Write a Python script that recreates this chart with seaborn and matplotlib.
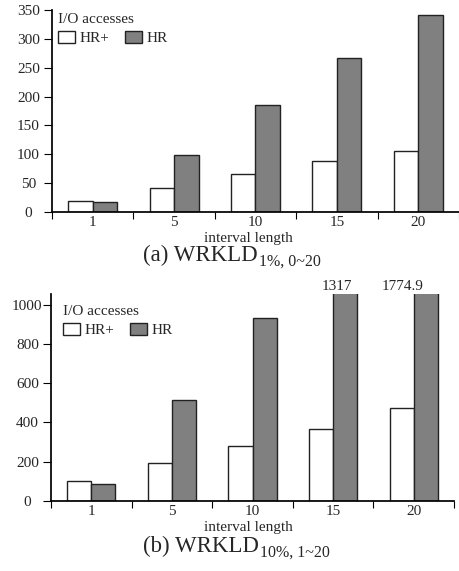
import pandas as pd
import seaborn as sns
import matplotlib.pyplot as plt
from matplotlib.ticker import FixedLocator

intervals = ['1', '5', '10', '15', '20']
methods = ['HR+', 'HR']

# (a) WRKLD 1%
hrplus_a = [19, 41, 65, 89, 106]
hr_a = [17, 98, 185, 267, 341]

# (b) WRKLD 10%
hrplus_b = [99, 191, 280, 366, 472]
hr_b = [87, 515, 931, 1317, 1774.9]

sns.set_theme(style='ticks')
plt.rcParams['font.family'] = ['Liberation Serif', 'DejaVu Serif']


def long_df(plus, base):
    return pd.DataFrame({
        'interval': intervals * 2,
        'method': ['HR+'] * len(intervals) + ['HR'] * len(intervals),
        'value': plus + base,
    })


W, H = 460, 571
fig = plt.figure(figsize=(W / 100, H / 100), dpi=100)
ax1 = fig.add_axes([52 / W, 1 - 212 / H, 407 / W, 202 / H])
ax2 = fig.add_axes([51 / W, 1 - 500.7 / H, 403 / W, 206.5 / H])

pal = {'HR+': 'white', 'HR': '#808080'}
fs = 11

panels = [
    (ax1, long_df(hrplus_a, hr_a), 350, range(0, 351, 50),
     '(a) WRKLD', '1%, 0~20', 261, 242, (0.0, 1.015)),
    (ax2, long_df(hrplus_b, hr_b), 1055, range(0, 1001, 200),
     '(b) WRKLD', '10%, 1~20', 552, 531, (0.015, 0.975)),
]

for ax, df, ymax, yticks, main, sub, title_y, xlab_y, leg_pos in panels:
    sns.barplot(data=df, x='interval', y='value', hue='method', hue_order=methods,
                order=intervals, palette=pal, width=0.6, gap=0,
                edgecolor='#222222', linewidth=1.0, ax=ax)
    ax.set_ylim(0, ymax)
    ax.set_xlim(-0.5, 4.5)
    ax.set_yticks(list(yticks))
    ax.xaxis.set_minor_locator(FixedLocator([-0.5, 0.5, 1.5, 2.5, 3.5, 4.5]))
    ax.tick_params(axis='x', which='major', length=0, labelsize=fs, pad=3)
    ax.tick_params(axis='x', which='minor', length=5, width=0.8, color='black')
    ax.tick_params(axis='y', length=6, width=0.8, labelsize=fs, color='black', pad=11)
    sns.despine(ax=ax)
    ax.spines['left'].set_color('black')
    ax.spines['bottom'].set_color('black')
    ax.set_xlabel('')
    ax.set_ylabel('')
    ax.grid(False)

    fig.text(248 / W, 1 - xlab_y / H, 'interval length', ha='center',
             va='baseline', fontsize=fs)
    t = fig.text(143 / W, 1 - title_y / H, main, ha='left', va='baseline',
                 fontsize=16.5)
    ax.annotate(sub, xy=(1.0, 0.0), xycoords=t, xytext=(1, 0.5),
                textcoords='offset points', ha='left', va='baseline',
                fontsize=11.5)

    handles, labels = ax.get_legend_handles_labels()
    ax.legend(handles, labels, title='I/O accesses', ncol=2, frameon=False,
              loc='upper left', bbox_to_anchor=leg_pos, alignment='left',
              fontsize=fs, title_fontsize=fs, handlelength=1.1,
              handleheight=0.85, handletextpad=0.3, columnspacing=1.05,
              borderaxespad=0.2, borderpad=0.2, labelspacing=0.3)

# clipped bars get their value written on top
for i, v in [(3, hr_b[3]), (4, hr_b[4])]:
    ax2.text(i + (0.05 if i == 3 else -0.14), 1062, f'{v:g}', ha='center',
             va='bottom', fontsize=fs)

# y tick labels sit centred in the margin, as in the original
fig.canvas.draw()
for ax in (ax1, ax2):
    for lab in ax.get_yticklabels():
        lab.set_horizontalalignment('center')

fig.savefig('out.png', dpi=100)
